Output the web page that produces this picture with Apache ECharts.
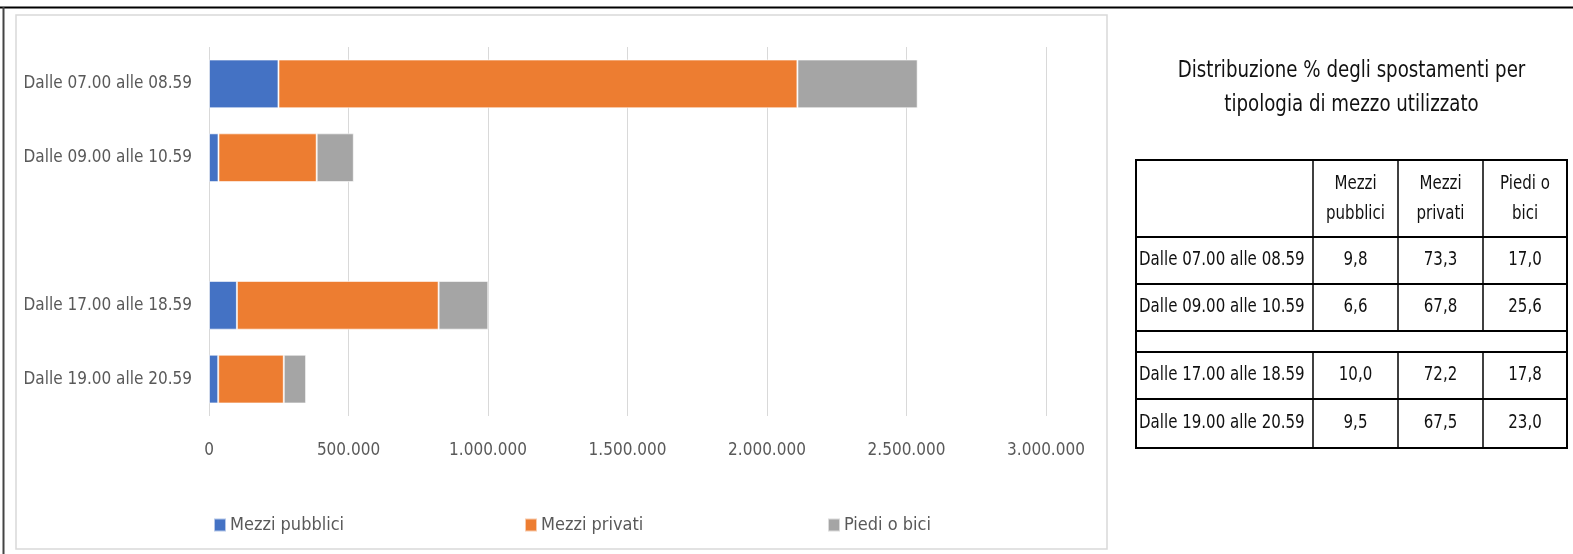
<!DOCTYPE html>
<html>
<head>
<meta charset="utf-8">
<script src="https://cdn.jsdelivr.net/npm/echarts@6/dist/echarts.min.js"></script>
<style>
  html, body { margin: 0; padding: 0; background: #fff; }
  #chart { width: 1573px; height: 554px; }
</style>
</head>
<body>
<div id="chart"></div>
<script>
// Time bands (the empty entry leaves a gap between morning and evening)
const categories = ['Dalle 07.00 alle 08.59', 'Dalle 09.00 alle 10.59', '', 'Dalle 17.00 alle 18.59', 'Dalle 19.00 alle 20.59'];

// Number of trips per transport mode
const mezziPubblici = [249000, 34000, null, 100000, 33000];
const mezziPrivati  = [1860000, 352000, null, 723000, 235000];
const piediOBici    = [431000, 133000, null, 178000, 80000];

const seriesNames = ['Mezzi pubblici', 'Mezzi privati', 'Piedi o bici'];
const seriesColors = ['#4472C4', '#ED7D31', '#A5A5A5'];

// Percentage table
const tableTitle = ['Distribuzione % degli spostamenti per', 'tipologia di mezzo utilizzato'];
const tableHeaders = [['Mezzi', 'pubblici'], ['Mezzi', 'privati'], ['Piedi o', 'bici']];
const tableRowLabels = ['Dalle 07.00 alle 08.59', 'Dalle 09.00 alle 10.59', null, 'Dalle 17.00 alle 18.59', 'Dalle 19.00 alle 20.59'];
const pctPubblici = ['9,8', '6,6', null, '10,0', '9,5'];
const pctPrivati  = ['73,3', '67,8', null, '72,2', '67,5'];
const pctPiedi    = ['17,0', '25,6', null, '17,8', '23,0'];

const FONT = '"Liberation Sans Narrow", "DejaVu Sans Condensed", "Open Sans", sans-serif';
const AXIS_COLOR = '#595959';

function fmtThousands(v) {
  return String(v).replace(/\B(?=(\d{3})+(?!\d))/g, '.');
}

// narrow, tall text element for the table
function tableText(str, x, y, align, size) {
  return {
    type: 'text',
    x: x,
    y: y,
    scaleX: 0.88,
    style: { text: str, x: 0, y: 0, textAlign: align, textVerticalAlign: 'middle', fill: '#111', fontSize: size, fontFamily: FONT }
  };
}

// ---- table drawn with graphic elements ----
const tX = [1136, 1313, 1398, 1483, 1567];
const tY = [160, 237, 284, 331, 352, 399, 448];
const graphics = [];

// outer frame and chart box
graphics.push({ type: 'line', shape: { x1: 0, y1: 7.5, x2: 1573, y2: 7.5 }, style: { stroke: '#000', lineWidth: 2 } });
graphics.push({ type: 'line', shape: { x1: 3.5, y1: 7, x2: 3.5, y2: 554 }, style: { stroke: '#444', lineWidth: 2 } });
graphics.push({ type: 'rect', shape: { x: 16, y: 15, width: 1091, height: 534 }, style: { fill: 'none', stroke: '#d9d9d9', lineWidth: 1.5 }, z: -1 });

// title
tableTitle.forEach((t, i) => {
  graphics.push(tableText(t, (tX[0] + tX[4]) / 2, 71 + i * 34, 'center', 23));
});

// grid lines
tY.forEach(y => {
  graphics.push({ type: 'line', shape: { x1: tX[0] - 1, y1: y, x2: tX[4] + 1, y2: y }, style: { stroke: '#000', lineWidth: 2 } });
});
[tX[0], tX[4]].forEach(x => {
  graphics.push({ type: 'line', shape: { x1: x, y1: tY[0], x2: x, y2: tY[6] }, style: { stroke: '#000', lineWidth: 2 } });
});
[tX[1], tX[2], tX[3]].forEach(x => {
  graphics.push({ type: 'line', shape: { x1: x, y1: tY[0], x2: x, y2: tY[3] }, style: { stroke: '#000', lineWidth: 1.5 } });
  graphics.push({ type: 'line', shape: { x1: x, y1: tY[4], x2: x, y2: tY[6] }, style: { stroke: '#000', lineWidth: 1.5 } });
});

// header
tableHeaders.forEach((h, c) => {
  const cx = (tX[c + 1] + tX[c + 2]) / 2;
  h.forEach((line, k) => {
    graphics.push(tableText(line, cx, 184 + k * 30, 'center', 19));
  });
});

// body rows
const rowTops = [tY[1], tY[2], tY[3], tY[4], tY[5]];
const rowBottoms = [tY[2], tY[3], tY[4], tY[5], tY[6]];
const pctCols = [pctPubblici, pctPrivati, pctPiedi];
tableRowLabels.forEach((label, r) => {
  if (label === null) return;
  const cy = (rowTops[r] + rowBottoms[r]) / 2;
  graphics.push(tableText(label, tX[0] + 3, cy, 'left', 19));
  pctCols.forEach((col, c) => {
    graphics.push(tableText(col[r], (tX[c + 1] + tX[c + 2]) / 2, cy, 'center', 19));
  });
});

// ---- chart ----
const chart = echarts.init(document.getElementById('chart'), null, { renderer: 'canvas' });
const seriesData = [mezziPubblici, mezziPrivati, piediOBici];
const legendLefts = [213, 524, 827];

chart.setOption({
  animation: false,
  textStyle: { fontFamily: FONT },
  grid: { left: 209, right: 527, top: 47, bottom: 138, containLabel: false },
  legend: seriesNames.map((n, i) => ({
    data: [n],
    left: legendLefts[i],
    top: 516,
    padding: 0,
    itemWidth: 12,
    itemHeight: 13,
    icon: 'rect',
    itemGap: 0,
    textStyle: { color: AXIS_COLOR, fontSize: 18, fontFamily: FONT, padding: [0, 0, 0, -1] },
    selectedMode: false
  })),
  xAxis: {
    type: 'value',
    min: 0,
    max: 3000000,
    interval: 500000,
    axisLine: { show: false },
    axisTick: { show: false },
    splitLine: { lineStyle: { color: '#d9d9d9', width: 1 } },
    axisLabel: { color: AXIS_COLOR, fontSize: 17, margin: 26, fontFamily: FONT, formatter: fmtThousands }
  },
  yAxis: {
    type: 'category',
    data: categories,
    inverse: true,
    axisLine: { show: false },
    axisTick: { show: false },
    axisLabel: { color: AXIS_COLOR, fontSize: 17, margin: 17, fontFamily: FONT }
  },
  series: seriesNames.map((n, i) => ({
    name: n,
    type: 'bar',
    stack: 'totale',
    data: seriesData[i],
    barCategoryGap: '34%',
    itemStyle: { color: seriesColors[i], borderColor: 'rgba(255,255,255,0.6)', borderWidth: 1 }
  })),
  graphic: graphics
});
</script>
</body>
</html>
